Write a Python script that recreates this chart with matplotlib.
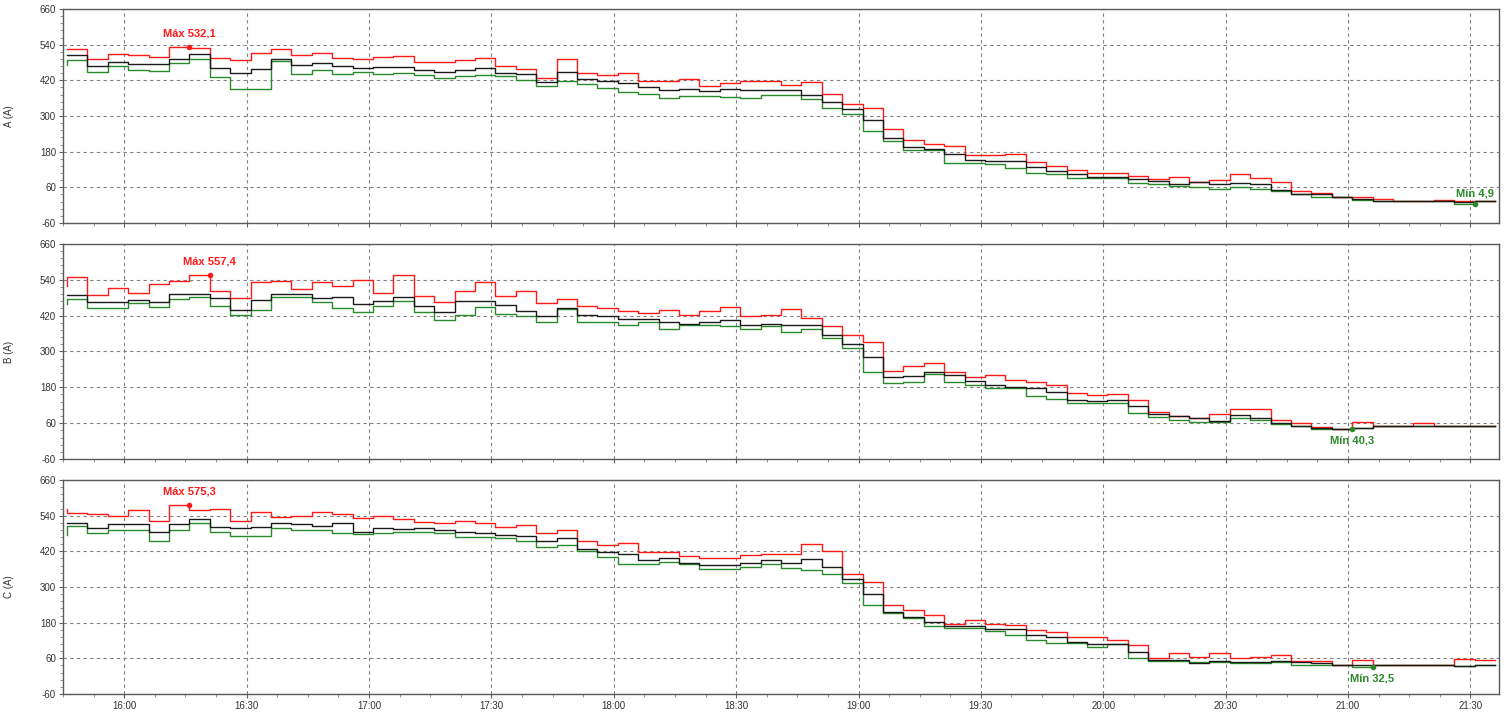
import numpy as np
import matplotlib
matplotlib.use("Agg")
import matplotlib.pyplot as plt
from matplotlib.ticker import MultipleLocator, FixedLocator, FuncFormatter

plt.rcParams['font.family'] = ['Liberation Sans', 'DejaVu Sans']
plt.rcParams['axes.unicode_minus'] = False

# Registros de 5 min; o primeiro valor e o ponto inicial (15:46)
inicio_min = 15 * 60 + 46
passo_min = 5

# Fase A (A)
a_max = [524,
         524, 492, 510, 504, 499, 532.1, 529, 496, 487, 512,
         524, 506, 513, 495, 491, 499, 503, 481, 481, 487,
         495, 467, 459, 429, 492, 446, 438, 443, 419, 419,
         423, 402, 412, 417, 417, 405, 413, 375, 341, 328,
         256, 219, 205, 198, 170, 170, 173, 146, 132, 117,
         109, 109, 99, 89, 94, 78, 86, 104, 91, 77,
         47, 42, 28, 26, 20, 13, 13, 19, 13, 13]
a_med = [504,
         504, 467, 481, 474, 474, 491, 507, 463, 445, 459,
         493, 473, 478, 467, 463, 465, 465, 456, 448, 456,
         463, 445, 440, 414, 448, 425, 417, 412, 398, 386,
         390, 383, 391, 389, 386, 386, 370, 347, 325, 285,
         227, 196, 188, 171, 153, 149, 149, 128, 114, 104,
         95, 96, 87, 82, 72, 77, 70, 76, 72, 52,
         39, 36, 28, 20, 13, 13, 13, 13, 12, 13]
a_min = [472,
         490, 448, 467, 456, 451, 478, 493, 431, 392, 392,
         484, 440, 456, 440, 448, 441, 445, 437, 429, 434,
         437, 435, 422, 401, 417, 409, 393, 381, 375, 359,
         367, 367, 364, 361, 372, 372, 358, 328, 308, 248,
         216, 184, 184, 142, 142, 140, 124, 109, 106, 93,
         93, 93, 75, 70, 64, 60, 56, 60, 56, 49,
         37, 28, 28, 17, 13, 13, 13, 13, 4.9, 13]

# Fase B (A)
b_max = [521,
         551, 490, 512, 496, 527, 537, 557.4, 501, 478, 533,
         537, 510, 534, 519, 540, 497, 556, 486, 467, 504,
         533, 485, 501, 464, 475, 453, 444, 435, 430, 439,
         422, 436, 449, 418, 422, 442, 412, 384, 355, 333,
         234, 253, 260, 232, 216, 221, 205, 197, 187, 162,
         153, 159, 136, 96, 85, 78, 90, 109, 107, 72,
         61, 48, 42, 64, 50, 50, 60, 50, 50, 50]
b_med = [490,
         490, 465, 465, 474, 467, 493, 493, 479, 439, 474,
         493, 493, 478, 482, 460, 470, 482, 451, 431, 470,
         470, 456, 437, 418, 445, 423, 420, 409, 409, 400,
         391, 398, 405, 390, 393, 388, 388, 355, 326, 282,
         213, 219, 233, 220, 200, 188, 180, 179, 166, 138,
         135, 136, 116, 92, 85, 76, 68, 87, 76, 59,
         51, 44, 42, 45, 50, 50, 50, 50, 50, 50]
b_min = [460,
         476, 445, 445, 463, 449, 477, 482, 451, 422, 439,
         482, 482, 466, 445, 432, 452, 470, 433, 407, 422,
         449, 424, 420, 398, 442, 399, 399, 388, 400, 375,
         388, 389, 384, 377, 384, 365, 376, 345, 312, 232,
         195, 199, 225, 198, 188, 179, 179, 151, 141, 129,
         126, 128, 95, 79, 72, 64, 64, 76, 70, 57,
         50, 42, 40.3, 45, 50, 50, 50, 50, 50, 50]

# Fase C (A)
c_max = [561,
         548, 547, 540, 559, 522, 575.3, 559, 561, 522, 553,
         537, 540, 553, 544, 531, 539, 529, 520, 514, 522,
         514, 503, 509, 481, 492, 455, 441, 447, 419, 419,
         404, 396, 396, 408, 410, 410, 445, 422, 343, 318,
         239, 223, 206, 176, 189, 176, 172, 155, 150, 133,
         133, 122, 105, 62, 77, 66, 79, 61, 63, 72,
         52, 50, 38, 53, 38, 38, 38, 38, 58, 53]
c_med = [516,
         516, 497, 511, 511, 484, 511, 528, 503, 497, 501,
         514, 511, 505, 516, 486, 499, 495, 500, 491, 485,
         481, 475, 472, 455, 466, 428, 419, 410, 391, 396,
         380, 374, 374, 382, 391, 380, 393, 368, 326, 275,
         217, 200, 183, 170, 169, 158, 158, 138, 133, 116,
         108, 109, 80, 55, 54, 45, 51, 47, 47, 51,
         49, 45, 38, 38, 38, 38, 38, 38, 35, 38]
c_min = [475,
         505, 481, 492, 492, 455, 492, 516, 484, 473, 473,
         500, 492, 492, 483, 478, 482, 485, 485, 481, 469,
         469, 464, 456, 436, 441, 420, 400, 376, 376, 384,
         376, 361, 361, 368, 376, 363, 357, 344, 312, 239,
         211, 195, 169, 161, 161, 152, 138, 122, 110, 110,
         99, 108, 60, 52, 52, 49, 49, 43, 45, 49,
         38, 38, 38, 32.5, 38, 38, 38, 38, 34, 38]

fases = ['A (A)', 'B (A)', 'C (A)']
series = [(a_max, a_med, a_min), (b_max, b_med, b_min), (c_max, c_med, c_min)]
y_ticks = [-60, 60, 180, 300, 420, 540, 660]
# posicao do rotulo de minimo: acima (A) ou abaixo (B, C)
min_acima = [True, False, False]

COR_MAX = '#ff1a1a'
COR_MED = '#1a1a1a'
COR_MIN = '#2a8a2a'


def hhmm(x, pos):
    x = int(round(x))
    return f"{x // 60:02d}:{x % 60:02d}"


def fmt_num(v):
    return f"{v:.1f}".replace('.', ',')


fig = plt.figure(figsize=(15.09, 7.13), dpi=100)
W, H = 1509, 713
paineis = [(9, 223), (244, 459), (480, 694)]
x0, x1 = 63, 1499

for i, (nome, (vmax, vmed, vmin), (top, bot)) in enumerate(zip(fases, series, paineis)):
    ax = fig.add_axes([x0 / W, 1 - bot / H, (x1 - x0) / W, (bot - top) / H])
    t = inicio_min + passo_min * np.arange(len(vmax))

    ax.plot(t, vmax, drawstyle='steps-pre', color=COR_MAX, lw=1.0, zorder=3)
    ax.plot(t, vmin, drawstyle='steps-pre', color=COR_MIN, lw=1.0, zorder=4)
    ax.plot(t, vmed, drawstyle='steps-pre', color=COR_MED, lw=1.0, zorder=5)

    # marcadores de maximo e minimo
    imax = int(np.argmax(vmax))
    imin = int(np.argmin(vmin))
    ax.plot(t[imax], vmax[imax], 'o', color=COR_MAX, ms=3, zorder=6)
    ax.plot(t[imin], vmin[imin], 'o', color=COR_MIN, ms=3, zorder=6)
    ax.annotate(f"Máx {fmt_num(vmax[imax])}", (t[imax], vmax[imax]),
                xytext=(0, 6), textcoords='offset points', ha='center', va='bottom',
                color=COR_MAX, fontsize=8, fontweight='bold')
    if min_acima[i]:
        ax.annotate(f"Mín {fmt_num(vmin[imin])}", (t[imin], vmin[imin]),
                    xytext=(0, 4), textcoords='offset points', ha='center', va='bottom',
                    color=COR_MIN, fontsize=8, fontweight='bold')
    else:
        ax.annotate(f"Mín {fmt_num(vmin[imin])}", (t[imin], vmin[imin]),
                    xytext=(0, -5), textcoords='offset points', ha='center', va='top',
                    color=COR_MIN, fontsize=8, fontweight='bold')

    ax.set_xlim(15 * 60 + 45, 21 * 60 + 37)
    ax.set_ylim(-60, 660)
    ax.yaxis.set_major_locator(FixedLocator(y_ticks))
    ax.yaxis.set_minor_locator(FixedLocator(np.arange(-60, 661, 24)))
    ax.xaxis.set_major_locator(MultipleLocator(30))
    ax.xaxis.set_minor_locator(MultipleLocator(7.5))
    ax.xaxis.set_major_formatter(FuncFormatter(hhmm))
    if i < 2:
        ax.tick_params(axis='x', labelbottom=False)

    ax.grid(True, which='major', color='#808080', lw=0.8, linestyle=(0, (3, 3)))
    ax.tick_params(which='major', length=3, width=0.8, color='#606060',
                   labelsize=7, labelcolor='#333333', pad=2)
    ax.tick_params(which='minor', length=2, width=0.6, color='#808080')
    for s in ax.spines.values():
        s.set_color('#5a5a5a')
        s.set_linewidth(1.0)

    ax.set_ylabel(nome, fontsize=7, color='#333333')
    ax.yaxis.set_label_coords(-0.034, 0.5)

fig.savefig('out.png', dpi=100)
